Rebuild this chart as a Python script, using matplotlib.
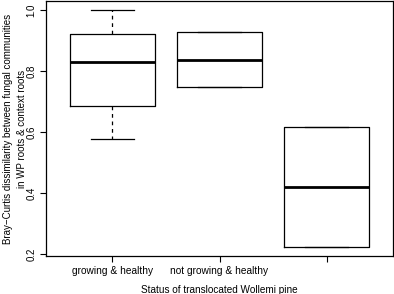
import matplotlib
matplotlib.use("Agg")
import matplotlib.pyplot as plt

plt.rcParams['font.family'] = ['Liberation Sans', 'DejaVu Sans']

categories = ["growing & healthy", "not growing & healthy", ""]
whisker_low = [0.576, 0.748, 0.225]
q1 = [0.685, 0.748, 0.225]
median = [0.830, 0.837, 0.420]
q3 = [0.921, 0.927, 0.615]
whisker_high = [1.0, 0.927, 0.615]

yticks = [0.2, 0.4, 0.6, 0.8, 1.0]

fig = plt.figure(figsize=(3.94, 2.94), dpi=100)
ax = fig.add_axes([46/394, 1 - 256/294, (393 - 46)/394, (256 - 0.5)/294])

stats = []
for i in range(len(categories)):
    stats.append(dict(whislo=whisker_low[i], q1=q1[i], med=median[i],
                      q3=q3[i], whishi=whisker_high[i], fliers=[], label=categories[i]))

ax.bxp(stats, positions=[1, 2, 3], widths=0.8, showfliers=False,
       boxprops=dict(color='black', linewidth=0.9),
       whiskerprops=dict(color='black', linewidth=0.9, linestyle=(0, (3, 3))),
       capprops=dict(color='black', linewidth=0.9),
       medianprops=dict(color='black', linewidth=2.0, solid_capstyle='butt'),
       capwidths=0.4)

ax.set_xlim(0.38, 3.62)
ax.set_ylim(0.194, 1.031)
ax.set_yticks(yticks)
ax.set_yticklabels([f"{v:.1f}" for v in yticks], rotation=90, va='center', fontsize=7)
ax.set_xticks([1, 2, 3])
ax.set_xticklabels(categories, fontsize=7.3)
ax.tick_params(axis='both', length=4, width=0.8, color='black', pad=3)
for s in ax.spines.values():
    s.set_linewidth(0.9)
    s.set_color('black')

ax.set_xlabel("Status of translocated Wollemi pine", fontsize=7.2, labelpad=7)
fig.text(15/394, 1 - 129/294,
         "Bray\u2212Curtis dissimilarity between fungal communities\nin WP roots & context roots",
         rotation=90, ha='center', va='center', fontsize=7, linespacing=1.55,
         multialignment='center')

fig.savefig("out.png", dpi=100)
